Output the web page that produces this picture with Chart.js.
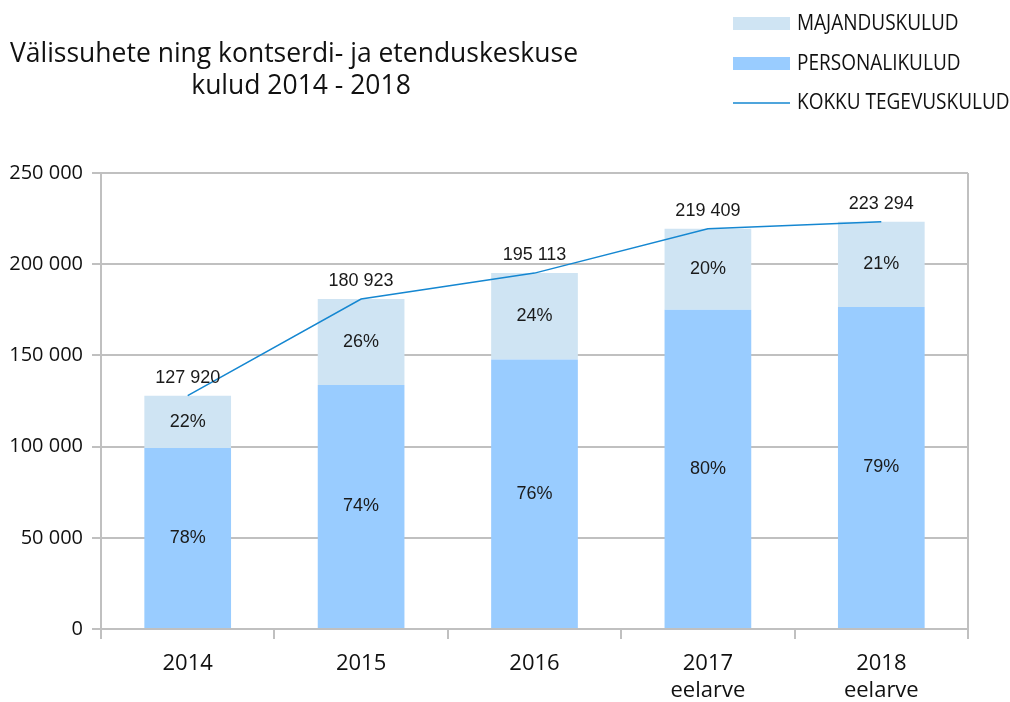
<!DOCTYPE html>
<html>
<head>
<meta charset="utf-8">
<script src="https://cdn.jsdelivr.net/npm/chart.js@4/dist/chart.umd.min.js"></script>
<style>
html,body{margin:0;padding:0;background:#fff;}
#wrap{width:1010px;height:702px;position:relative;}
</style>
</head>
<body>
<div id="wrap"><canvas id="c" width="1010" height="702"></canvas></div>
<script>
const categories = [["2014"], ["2015"], ["2016"], ["2017", "eelarve"], ["2018", "eelarve"]];
const personalikulud = [99300, 133800, 147800, 175000, 176600];
const majanduskulud = [28620, 47123, 47313, 44409, 46694];
const kokku = [127920, 180923, 195113, 219409, 223294];
const yTicks = [0, 50000, 100000, 150000, 200000, 250000];
const titleLines = ["Välissuhete ning kontserdi- ja etenduskeskuse", "kulud 2014 - 2018"];
const legendItems = ["MAJANDUSKULUD", "PERSONALIKULUD", "KOKKU TEGEVUSKULUD"];

const C_MAJ = '#cfe4f3';
const C_PER = '#99ccff';
const C_LINE = '#1587d1';
const C_GRID = '#c0c0c0';

function fmt(v){ return String(Math.round(v)).replace(/\B(?=(\d{3})+(?!\d))/g, ' '); }

const overlay = {
  id: 'overlay',
  afterDatasetsDraw(chart){
    const ctx = chart.ctx;
    const ca = chart.chartArea;
    ctx.save();
    // right border
    ctx.strokeStyle = C_GRID; ctx.lineWidth = 2;
    ctx.beginPath(); ctx.moveTo(ca.right, ca.top); ctx.lineTo(ca.right, ca.bottom + 10); ctx.stroke();
    // percent labels
    ctx.fillStyle = '#1a1a1a';
    ctx.font = '18px "Liberation Sans", Arial, sans-serif';
    ctx.textAlign = 'center'; ctx.textBaseline = 'middle';
    [0,1].forEach(di => {
      const meta = chart.getDatasetMeta(di);
      const data = chart.data.datasets[di].data;
      meta.data.forEach((bar, i) => {
        const pct = Math.round(data[i] / kokku[i] * 100);
        const yc = (bar.y + bar.base) / 2;
        ctx.fillText(pct + '%', bar.x, yc);
      });
    });
    // totals
    const lm = chart.getDatasetMeta(2);
    lm.data.forEach((pt, i) => {
      ctx.fillText(fmt(kokku[i]), pt.x, pt.y - 18);
    });
    ctx.restore();
  },
  afterDraw(chart){
    const ctx = chart.ctx;
    ctx.save();
    // title
    ctx.fillStyle = '#111';
    ctx.font = '27px "Open Sans", sans-serif';
    ctx.textAlign = 'center'; ctx.textBaseline = 'alphabetic';
    const w1 = ctx.measureText(titleLines[0]).width;
    const sx = 568 / w1;
    ctx.save();
    ctx.translate(294, 62); ctx.scale(sx, 1);
    ctx.fillText(titleLines[0], 0, 0);
    ctx.restore();
    ctx.save();
    ctx.translate(301, 94); ctx.scale(sx, 1);
    ctx.fillText(titleLines[1], 0, 0);
    ctx.restore();
    // legend
    ctx.font = '21px "Open Sans", sans-serif';
    ctx.textAlign = 'left'; ctx.textBaseline = 'middle';
    const rows = [24, 64, 103];
    ctx.fillStyle = C_MAJ; ctx.fillRect(733, 17, 57, 13);
    ctx.fillStyle = C_PER; ctx.fillRect(733, 57, 57, 13);
    ctx.strokeStyle = C_LINE; ctx.lineWidth = 1.5;
    ctx.beginPath(); ctx.moveTo(733, 103); ctx.lineTo(790, 103); ctx.stroke();
    ctx.fillStyle = '#111';
    legendItems.forEach((t, i) => {
      ctx.save();
      ctx.translate(797, rows[i]); ctx.scale(0.905, 1);
      ctx.fillText(t, 0, 0);
      ctx.restore();
    });
    ctx.restore();
  }
};

new Chart(document.getElementById('c'), {
  data: {
    labels: categories,
    datasets: [
      { type: 'bar', label: 'PERSONALIKULUD', data: personalikulud, backgroundColor: C_PER, stack: 's', order: 2,
        categoryPercentage: 1, barPercentage: 0.5 },
      { type: 'bar', label: 'MAJANDUSKULUD', data: majanduskulud, backgroundColor: C_MAJ, stack: 's', order: 2,
        categoryPercentage: 1, barPercentage: 0.5 },
      { type: 'line', label: 'KOKKU TEGEVUSKULUD', data: kokku, borderColor: C_LINE, borderWidth: 1.5,
        pointRadius: 0, tension: 0, fill: false, order: 1 }
    ]
  },
  options: {
    responsive: false,
    animation: false,
    layout: { padding: { left: 0, right: 42, top: 173, bottom: 0 } },
    plugins: { legend: { display: false }, title: { display: false }, tooltip: { enabled: false } },
    scales: {
      x: {
        stacked: true,
        offset: true,
        grid: { offset: true, drawOnChartArea: false, drawTicks: true, tickLength: 10, color: C_GRID, lineWidth: 2 },
        border: { color: C_GRID, width: 2 },
        ticks: { color: '#111', font: { family: '"Open Sans", sans-serif', size: 22 }, padding: 12, maxRotation: 0 },
        afterFit(s){ s.height = 73; }
      },
      y: {
        stacked: true,
        min: 0, max: 250000,
        afterBuildTicks(s){ s.ticks = yTicks.map(v => ({ value: v })); },
        grid: { color: C_GRID, lineWidth: 2, tickLength: 9, drawTicks: true },
        border: { color: C_GRID, width: 2 },
        ticks: { color: '#111', font: { family: '"Open Sans", sans-serif', size: 20 }, padding: 9,
          callback: v => fmt(v) },
        afterFit(s){ s.width = 101; }
      }
    }
  },
  plugins: [overlay]
});
</script>
</body>
</html>
